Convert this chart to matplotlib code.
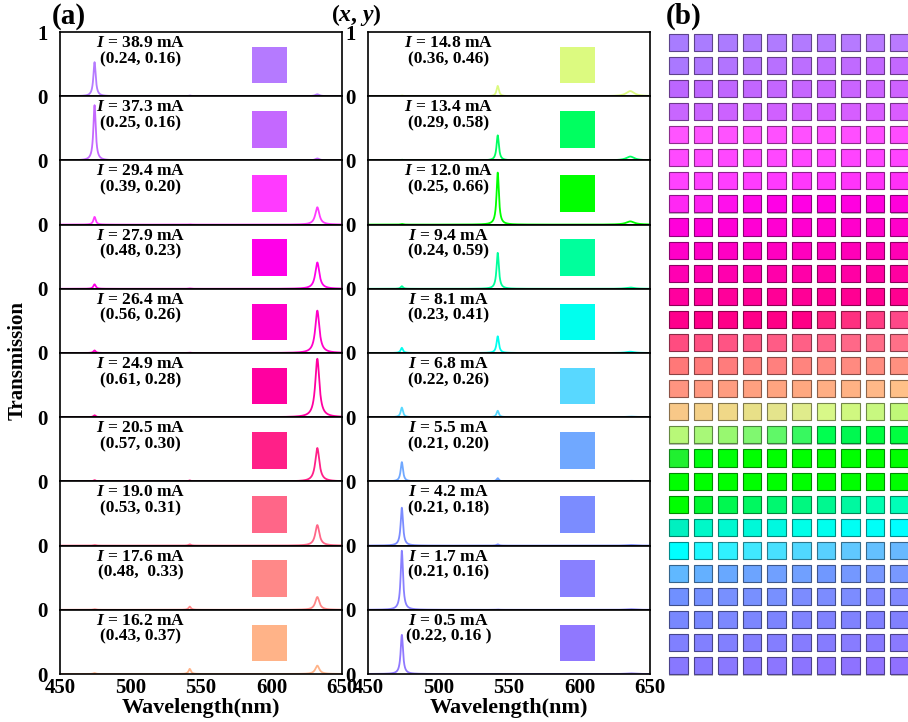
import numpy as np
import matplotlib
matplotlib.use("Agg")
import matplotlib.pyplot as plt
from matplotlib.patches import Rectangle
from matplotlib.colors import to_rgb

plt.rcParams['font.family'] = ['Liberation Serif', 'DejaVu Serif']
plt.rcParams['font.weight'] = 'bold'
plt.rcParams['mathtext.fontset'] = 'custom'
plt.rcParams['mathtext.it'] = 'Liberation Serif:italic:bold'
plt.rcParams['mathtext.rm'] = 'Liberation Serif:bold'

# ---- data ----
left_current = ["38.9", "37.3", "29.4", "27.9", "26.4", "24.9", "20.5", "19.0", "17.6", "16.2"]
left_xy = ["(0.24, 0.16)", "(0.25, 0.16)", "(0.39, 0.20)", "(0.48, 0.23)", "(0.56, 0.26)",
           "(0.61, 0.28)", "(0.57, 0.30)", "(0.53, 0.31)", "(0.48,  0.33)", "(0.43, 0.37)"]
left_colors = ["#B57AFF", "#C468FF", "#FF3AFF", "#FF00E8", "#FF00C8",
               "#FF00A0", "#FF2088", "#FF6688", "#FF8888", "#FFB388"]
# peak heights (blue ~474 nm, green ~542 nm, red ~633 nm)
left_blue = [0.53, 0.86, 0.12, 0.07, 0.04, 0.03, 0.02, 0.01, 0.01, 0.015]
left_green = [0.01, 0.005, 0.005, 0.005, 0.005, 0.005, 0.015, 0.02, 0.05, 0.08]
left_red = [0.03, 0.03, 0.27, 0.41, 0.66, 0.91, 0.52, 0.32, 0.20, 0.13]
left_peak_pos = [474.5, 542.0, 632.5]
left_peak_fwhm = [2.0, 2.0, 3.5]

right_current = ["14.8", "13.4", "12.0", "9.4", "8.1", "6.8", "5.5", "4.2", "1.7", "0.5"]
right_xy = ["(0.36, 0.46)", "(0.29, 0.58)", "(0.25, 0.66)", "(0.24, 0.59)", "(0.23, 0.41)",
            "(0.22, 0.26)", "(0.21, 0.20)", "(0.21, 0.18)", "(0.21, 0.16)", "(0.22, 0.16 )"]
right_colors = ["#DCFA80", "#00FF60", "#00FF00", "#00FF9C", "#00FFEE",
                "#58D8FF", "#70A8FF", "#7B8CFF", "#8880FF", "#9078FF"]
right_blue = [0.01, 0.01, 0.01, 0.04, 0.08, 0.15, 0.30, 0.59, 0.92, 0.61]
right_green = [0.16, 0.39, 0.81, 0.56, 0.26, 0.10, 0.05, 0.02, 0.005, 0.002]
right_red = [0.08, 0.06, 0.05, 0.02, 0.02, 0.01, 0.01, 0.01, 0.01, 0.01]
right_peak_pos = [474.0, 542.0, 636.0]
right_peak_fwhm = [2.0, 2.0, 7.0]

xticks = [450, 500, 550, 600, 650]

grid_rows = [
    ["#A87CFF", "#AA7CFF", "#AC7BFF", "#AE7BFF", "#B07BFF", "#B27AFF", "#B47AFF", "#B67AFF", "#B87AFF", "#BA7AFF"],
    ["#AA78FF", "#AE76FF", "#B274FF", "#B672FF", "#B870FF", "#BC6EFF", "#BE6CFF", "#C06AFF", "#C268FF", "#C468FF"],
    ["#BC66FF", "#BE66FF", "#C066FF", "#C266FF", "#C466FF", "#C666FF", "#C864FF", "#CA64FF", "#CC62FF", "#CE62FF"],
    ["#C866FF", "#CA64FF", "#CC62FF", "#CE62FF", "#D060FF", "#D260FF", "#D45EFF", "#D65EFF", "#D85CFF", "#DA5CFF"],
    ["#FF54FF", "#FF54FF", "#FF52FF", "#FF52FF", "#FF50FF", "#FF50FF", "#FF4EFF", "#FF4EFF", "#FF4CFF", "#FF4CFF"],
    ["#FF4AFF", "#FF4AFF", "#FF48FF", "#FF48FF", "#FF48FF", "#FF46FF", "#FF46FF", "#FF44FF", "#FF44FF", "#FF44FF"],
    ["#FF42FF", "#FF40FF", "#FF3EFF", "#FF3CFF", "#FF3AFE", "#FF38FC", "#FF36FC", "#FF34FA", "#FF32F8", "#FF30F8"],
    ["#FF28F4", "#FF20F0", "#FF10EC", "#FF08E8", "#FF00E6", "#FF00E4", "#FF00E2", "#FF00E0", "#FF00DE", "#FF00DC"],
    ["#FF00DA", "#FF00D8", "#FF00D6", "#FF00D4", "#FF00D2", "#FF00D0", "#FF00CE", "#FF00CC", "#FF00CA", "#FF00CA"],
    ["#FF00C8", "#FF00C6", "#FF00C4", "#FF00C2", "#FF00C0", "#FF00BE", "#FF00BC", "#FF00B8", "#FF00B6", "#FF00B4"],
    ["#FF00B2", "#FF00B0", "#FF00AE", "#FF00AC", "#FF00AA", "#FF00A8", "#FF00A6", "#FF00A4", "#FF00A2", "#FF00A0"],
    ["#FF009E", "#FF009C", "#FF009A", "#FF0098", "#FF0096", "#FF0096", "#FF0094", "#FF0092", "#FF0092", "#FF0090"],
    ["#FF008C", "#FF008A", "#FF0088", "#FF0088", "#FF0086", "#FF0086", "#FF2080", "#FF3080", "#FF3C84", "#FF4888"],
    ["#FF4C80", "#FF5082", "#FF5484", "#FF5884", "#FF5C86", "#FF6086", "#FF6488", "#FF6888", "#FF6C88", "#FF7088"],
    ["#FF7878", "#FF7A7A", "#FF7C7C", "#FF7E7C", "#FF807E", "#FF847E", "#FF8880", "#FF8A80", "#FF8C80", "#FF9080"],
    ["#FF9480", "#FF9880", "#FF9C80", "#FFA080", "#FFA480", "#FFA880", "#FFAE84", "#FFB284", "#FFB888", "#FFC088"],
    ["#F8C888", "#F4D088", "#F0D888", "#E8E088", "#E4E48C", "#E0EC8C", "#D8F888", "#D0F880", "#C8F880", "#C0F878"],
    ["#B8F878", "#A8F878", "#98F870", "#80F870", "#60F868", "#38F860", "#00FF50", "#00F850", "#00FF40", "#00FF40"],
    ["#20F030", "#00FF10", "#00FF08", "#00FF00", "#00FF00", "#00FF00", "#00FF00", "#00FF00", "#00FF00", "#00FF00"],
    ["#00FF00", "#00FF00", "#00FF00", "#00FF00", "#00FF00", "#00FF00", "#00FF00", "#00FF00", "#00FF00", "#00FF00"],
    ["#00FF00", "#00F830", "#00F850", "#00F860", "#00F870", "#00F880", "#00F890", "#00F8A0", "#00FFB0", "#00FFB8"],
    ["#00F0C0", "#00F8C8", "#00F8D0", "#00F8D8", "#00F8E0", "#00FFE8", "#00FFEE", "#00FFF4", "#00FFF8", "#00FFFF"],
    ["#00FFFF", "#20F8FF", "#30F0FF", "#40E8FF", "#48E0FF", "#50D8FF", "#58D0FF", "#60C8FF", "#64C0FF", "#68B8FF"],
    ["#60B8FF", "#64B0FF", "#68A8FF", "#6CA4FF", "#70A0FF", "#70A0FF", "#7098FF", "#7498FF", "#7898FF", "#7898FF"],
    ["#7090FF", "#7490FF", "#7890FF", "#7890FF", "#7890FF", "#7C8CFF", "#7C8CFF", "#7C8CFF", "#8088FF", "#8088FF"],
    ["#7888FF", "#7888FF", "#7C88FF", "#7C86FF", "#7C84FF", "#8084FF", "#8082FF", "#8082FF", "#8080FF", "#8080FF"],
    ["#8080FF", "#8280FF", "#8280FF", "#847EFF", "#847EFF", "#867CFF", "#867CFF", "#887CFF", "#887AFF", "#8A7AFF"],
    ["#8878FF", "#8878FF", "#8A78FF", "#8A76FF", "#8C76FF", "#8C74FF", "#8E74FF", "#8E72FF", "#9072FF", "#9070FF"],
]

W, H = 908, 722
fig = plt.figure(figsize=(W / 100, H / 100), dpi=100)

wl = np.linspace(450, 650, 2001)


def spectrum(heights, pos, fwhm):
    y = np.zeros_like(wl)
    for h, x0, w in zip(heights, pos, fwhm):
        y += h / (1 + ((wl - x0) / (w / 2)) ** 2)
    return y


def column(x0px, currents, xys, colors, blues, greens, reds, pos, fwhm):
    top, bottom = 32, 674
    ph = (bottom - top) / 10
    axes = []
    for i in range(10):
        ax = fig.add_axes([x0px / W, 1 - (top + (i + 1) * ph) / H, 282 / W, ph / H])
        ax.plot(wl, spectrum((blues[i], greens[i], reds[i]), pos, fwhm), color=colors[i], lw=1.3)
        ax.add_patch(Rectangle((586, 0.2), 25, 0.57, color=colors[i], lw=0))
        ax.text(507, 0.83, r"$I$ = %s mA" % currents[i], ha='center', va='center',
                fontsize=12.5, fontweight='bold')
        ax.text(507, 0.58, xys[i], ha='center', va='center', fontsize=12.5, fontweight='bold')
        ax.set_xlim(450, 650)
        ax.set_ylim(0, 1)
        ax.set_yticks([0, 1] if i == 0 else [0])
        ax.set_xticks(xticks)
        ax.tick_params(length=0, labelsize=15)
        ax.tick_params(axis='y', pad=9)
        ax.tick_params(axis='x', pad=3)
        if i < 9:
            ax.set_xticklabels([])
        for s in ax.spines.values():
            s.set_linewidth(1.2)
        axes.append(ax)
    axes[-1].set_xlabel("Wavelength(nm)", fontsize=16, fontweight='bold', labelpad=0)
    return axes


column(60, left_current, left_xy, left_colors, left_blue, left_green, left_red,
       left_peak_pos, left_peak_fwhm)
column(368, right_current, right_xy, right_colors, right_blue, right_green, right_red,
       right_peak_pos, right_peak_fwhm)

# panel (b): colour grid
gx0, gy0 = 667, 32
axg = fig.add_axes([gx0 / W, 1 - (gy0 + 28 * 23.1) / H, 246 / W, 28 * 23.1 / H])
axg.set_xlim(0, 10)
axg.set_ylim(28, 0)
axg.axis('off')
for i, row in enumerate(grid_rows):
    for j, c in enumerate(row):
        rgb = np.array(to_rgb(c))
        axg.add_patch(Rectangle((j + 0.10, i + 0.10), 0.78, 0.76, facecolor='#BBBBBB', lw=0))
        axg.add_patch(Rectangle((j + 0.08, i + 0.07), 0.76, 0.74, facecolor=c,
                                edgecolor=rgb * 0.55, lw=0.8))

fig.text(52 / W, 1 - 16 / H, "(a)", fontsize=21, fontweight='bold', va='center', ha='left')
fig.text(331 / W, 1 - 15 / H, r"($x$, $y$)", fontsize=17, fontweight='bold', va='center', ha='left')
fig.text(666 / W, 1 - 16 / H, "(b)", fontsize=21, fontweight='bold', va='center', ha='left')
fig.text(18 / W, 0.5, "Transmission", rotation=90, fontsize=15, fontweight='bold',
         va='center', ha='center')

fig.savefig("out.png", dpi=100)
